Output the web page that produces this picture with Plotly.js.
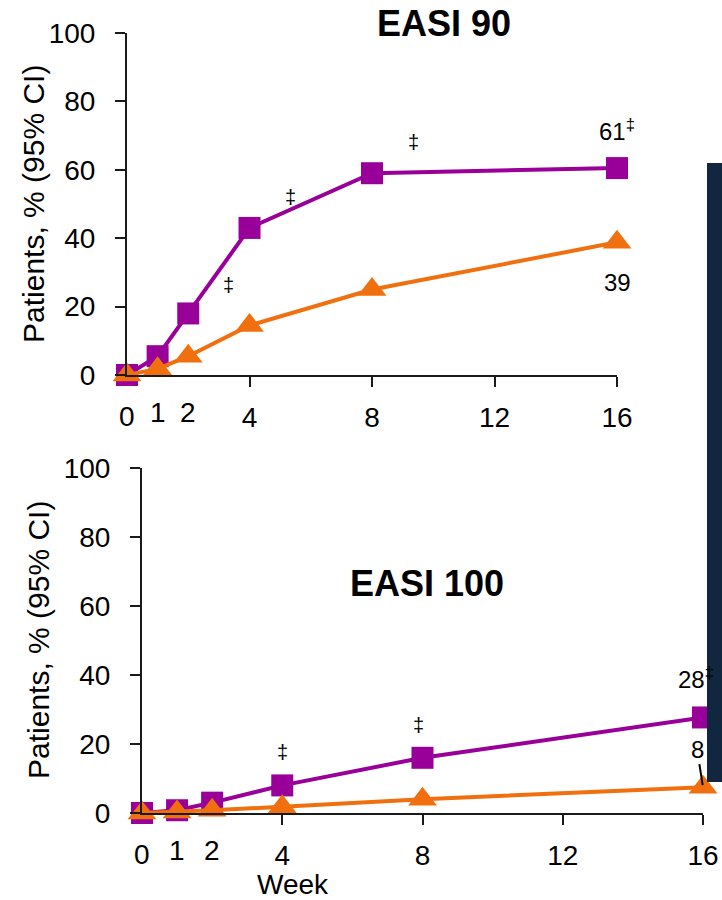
<!DOCTYPE html>
<html>
<head>
<meta charset="utf-8">
<script src="https://cdn.plot.ly/plotly-3.0.1.min.js"></script>
<style>html,body{margin:0;padding:0;background:#fff;}#chart{width:722px;height:900px;}</style>
</head>
<body>
<div id="chart"></div>
<script>
// Weeks
const weeks = [0, 1, 2, 4, 8, 16];
// EASI 90 (top panel)
const easi90Purple = [0, 5.5, 18, 43, 59, 60.5];
const easi90Orange = [0, 1.8, 5.5, 14.5, 25, 38.8];
// EASI 100 (bottom panel)
const easi100Purple = [0, 0.8, 3, 8, 16, 27.7];
const easi100Orange = [0, 0.3, 0.8, 1.8, 4, 7.5];
// Tick labels
const xTickVals = [4, 8, 12, 16];
const xTickText = ['4', '8', '12', '16'];
const xExtraLabels = ['0', '1', '2'];
const xExtraVals = [0, 1, 2];
const yTickVals = [0, 20, 40, 60, 80, 100];
const yTitle = 'Patients, % (95% CI)';

const PURPLE = '#990099';
const ORANGE = '#F0700F';
const FONT = 'Liberation Sans, Arial, sans-serif';

function series(x, y, color, symbol, size, xa, ya) {
  return {
    x: x, y: y, xaxis: xa, yaxis: ya, type: 'scatter', mode: 'lines+markers',
    line: {color: color, width: 4},
    marker: {color: color, symbol: symbol, size: size, line: {width: 0}},
    cliponaxis: false, showlegend: false, hoverinfo: 'skip'
  };
}

const traces = [
  series(weeks, easi90Purple, PURPLE, 'square', 22, 'x', 'y'),
  series(weeks, easi90Orange, ORANGE, 'triangle-up', 25, 'x', 'y'),
  series(weeks, easi100Purple, PURPLE, 'square', 22, 'x2', 'y2'),
  series(weeks, easi100Orange, ORANGE, 'triangle-up', 25, 'x2', 'y2')
];

const tickFont = {family: FONT, size: 28, color: '#000'};

function xAxis(domain, anchor) {
  return {
    domain: domain, anchor: anchor, range: [0, 16], showline: true, linecolor: '#1a1a1a', linewidth: 2,
    showgrid: false, zeroline: false, ticks: 'outside', ticklen: 10, tickwidth: 2, tickcolor: '#1a1a1a',
    tickvals: xTickVals, ticktext: xTickText, tickfont: tickFont, ticklabelstandoff: 6, fixedrange: true
  };
}
function yAxis(domain, anchor) {
  return {
    domain: domain, anchor: anchor, range: [0, 100], showline: true, linecolor: '#1a1a1a', linewidth: 2,
    showgrid: false, zeroline: false, ticks: 'outside', ticklen: 10, tickwidth: 2, tickcolor: '#1a1a1a',
    tickvals: yTickVals, tickfont: tickFont, ticklabelstandoff: 14, fixedrange: true
  };
}

const annotations = [];
function txt(xref, yref, x, y, text, size, extra) {
  annotations.push(Object.assign({
    xref: xref, yref: yref, x: x, y: y, text: text, showarrow: false,
    font: {family: FONT, size: size, color: '#000'}
  }, extra || {}));
}

// Y-axis titles (rotated)
txt('paper', 'paper', 33/722, 1 - 204/900, yTitle, 30, {textangle: -90, xanchor: 'center', yanchor: 'middle'});
txt('paper', 'paper', 38/722, 1 - 640/900, yTitle, 30, {textangle: -90, xanchor: 'center', yanchor: 'middle'});

// Extra x tick labels (0,1,2) without tick marks
xExtraVals.forEach((v, i) => {
  const shift = (v === 0) ? -24 : -20;
  txt('x', 'y', v, 0, xExtraLabels[i], 28, {yanchor: 'top', yshift: shift});
  txt('x2', 'y2', v, 0, xExtraLabels[i], 28, {yanchor: 'top', yshift: shift});
});

// Titles
txt('paper', 'paper', 0.615, 1 - 24/900, '<b>EASI 90</b>', 36, {yanchor: 'middle'});
txt('paper', 'paper', 0.591, 1 - 583/900, '<b>EASI 100</b>', 36, {yanchor: 'middle'});

// Top panel significance marks and labels
txt('x', 'y', 3.3, 26.3, '‡', 20, {});
txt('x', 'y', 5.33, 52, '‡', 20, {});
txt('x', 'y', 9.35, 68, '‡', 20, {});
txt('x', 'y', 16, 71.6, '61<sup>‡</sup>', 24, {});
txt('x', 'y', 16, 26.9, '39', 24, {});

// Bottom panel
txt('x2', 'y2', 4, 17.7, '‡', 20, {});
txt('x2', 'y2', 7.9, 25.5, '‡', 20, {});
txt('x2', 'y2', 15.8, 39, '28<sup>‡</sup>', 24, {});
annotations.push({
  xref: 'x2', yref: 'y2', x: 16, y: 7.5, text: '8', showarrow: true,
  ax: -6, ay: -38, arrowhead: 0, arrowwidth: 2, arrowcolor: '#000', standoff: 2,
  font: {family: FONT, size: 24, color: '#000'}
});

// Week label
txt('paper', 'paper', 293/722, 1 - 884/900, 'Week', 28, {yanchor: 'middle'});

const layout = {
  width: 722, height: 900,
  margin: {l: 0, r: 0, t: 0, b: 0},
  paper_bgcolor: '#fff', plot_bgcolor: 'rgba(0,0,0,0)',
  font: {family: FONT, color: '#000'},
  showlegend: false,
  xaxis: xAxis([127/722, 617/722], 'y'),
  yaxis: yAxis([1 - 375/900, 1 - 33/900], 'x'),
  xaxis2: xAxis([142/722, 703/722], 'y2'),
  yaxis2: yAxis([1 - 813/900, 1 - 468/900], 'x2'),
  annotations: annotations,
  shapes: [{
    type: 'rect', xref: 'paper', yref: 'paper', layer: 'above',
    x0: 707/722, x1: 1, y0: 1 - 782/900, y1: 1 - 163/900,
    fillcolor: '#10273F', line: {width: 0}
  }]
};

Plotly.newPlot('chart', traces, layout, {displayModeBar: false, staticPlot: true});
</script>
</body>
</html>
